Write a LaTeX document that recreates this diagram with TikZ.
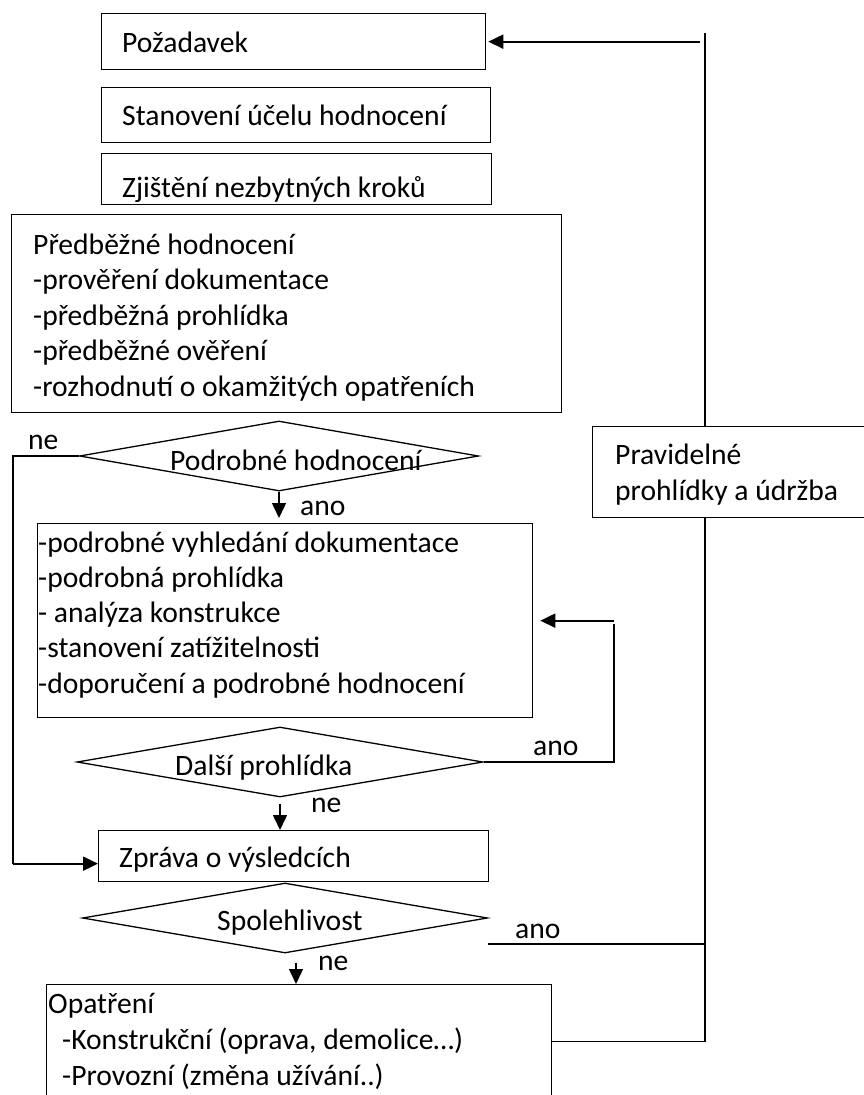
\documentclass[tikz,border=0pt]{standalone}
\usepackage{fontspec}
\setmainfont{Carlito}
\usetikzlibrary{arrows.meta,shapes.geometric}

\begin{document}
\begin{tikzpicture}
% Assessment flowchart, coordinates in pixels
\providecommand{\flowLineWidth}{1.3pt}
\providecommand{\flowArrowWidth}{2pt}
\providecommand{\flowDownWidth}{1.5pt}
\begin{scope}[x=1pt, y=-1pt,
  box/.style={draw, line width=\flowLineWidth, anchor=north west, inner sep=0pt},
  decision/.style={draw, diamond, line width=\flowLineWidth, inner sep=0pt},
  txt/.style={anchor=base west, inner sep=0pt, font=\fontsize{29.6}{35}\selectfont},
  conn/.style={line width=\flowLineWidth},
  arr/.style={line width=\flowArrowWidth, -{Triangle[length=15pt,width=14pt]}},
  downarr/.style={arr, line width=\flowDownWidth}]
  \useasboundingbox (0,0) rectangle (864,1095);
  \clip (0,0) rectangle (864,1095);
  \fill[white] (0,0) rectangle (864,1095);
  % Boxes
  \node[box, minimum width=384pt, minimum height=56pt] (poz) at (101,13) {};
  \node[box, minimum width=389pt, minimum height=55pt] (stan) at (101,87) {};
  \node[box, minimum width=390pt, minimum height=51pt] (zjis) at (101,153) {};
  \node[box, minimum width=550pt, minimum height=198pt] (pred) at (11,214) {};
  \node[box, minimum width=495pt, minimum height=194pt] (podr) at (37,523) {};
  \node[box, minimum width=390pt, minimum height=51pt] (zpr) at (98,830) {};
  \node[box, minimum width=505pt, minimum height=114pt] (opat) at (46,984) {};
  \node[box, minimum width=290pt, minimum height=91pt] (prav) at (592,426) {};
  % Decisions
  \node[decision, minimum width=399pt, minimum height=70pt] (hodD) at (279,456) {};
  \node[decision, minimum width=406pt, minimum height=70pt] (dalD) at (280,762) {};
  \node[decision, minimum width=405pt, minimum height=70pt] (spoD) at (285,918) {};
  % Box texts
  \node[txt] (pozT) at (122,52) {Požadavek};
  \node[txt] (stanT) at (122,125) {Stanovení účelu hodnocení};
  \begin{scope}
    \clip (101,153) rectangle (491,201);
    \node[txt] (zjisT) at (122,197) {Zjištění nezbytných kroků};
  \end{scope}
  \foreach \row [count=\i from 0] in {Předběžné hodnocení, -prověření dokumentace,
      -předběžná prohlídka, -předběžné ověření, -rozhodnutí o okamžitých opatřeních}
    \node[txt] (predT\i) at (33,254+35.5*\i) {\row};
  \foreach \row [count=\i from 0] in {-podrobné vyhledání dokumentace, -podrobná prohlídka,
      - analýza konstrukce, -stanovení zatížitelnosti, -doporučení a podrobné hodnocení}
    \node[txt] (podrT\i) at (38,552+35.3*\i) {\row};
  \begin{scope}
    \clip (98,830) rectangle (488,871);
    \node[txt] (zprT) at (119,867) {Zpráva o výsledcích};
  \end{scope}
  \node[txt] (opatT0) at (48,1013) {Opatření};
  \node[txt] (opatT1) at (62,1049) {-Konstrukční (oprava, demolice…)};
  \node[txt] (opatT2) at (62,1085) {-Provozní (změna užívání..)};
  \node[txt] (pravT0) at (615,464) {Pravidelné};
  \node[txt] (pravT1) at (615,500) {prohlídky a údržba};
  \node[txt] (hodT) at (170,470) {Podrobné hodnocení};
  \node[txt] (dalT) at (175,775) {Další prohlídka};
  \node[txt] (spoT) at (217,930) {Spolehlivost};
  % Branch labels
  \node[txt] (neA) at (28,449) {ne};
  \node[txt] (anoA) at (300,515) {ano};
  \node[txt] (anoB) at (533,755) {ano};
  \node[txt] (neB) at (311,812) {ne};
  \node[txt] (anoC) at (515,938) {ano};
  \node[txt] (neC) at (318,970) {ne};
  % Connectors
  \coordinate (rbus) at (705,33);
  \coordinate (lbus) at (13,456);
  \coordinate (rloop) at (614,624);
  \coordinate (spoA) at (488,944);
  \coordinate (zprA) at ([yshift=-7.5pt]zpr.west);
  \coordinate (spoN) at ([xshift=11pt,yshift=-9pt]spoD.south);
  % return loop on the right
  \draw[conn] (opat.east) -| (prav.south -| rbus);
  \draw[conn] (prav.north -| rbus) -- (rbus);
  \draw[arr] ([xshift=-5pt]rbus |- poz.east) -- ([xshift=2pt]poz.east);
  \draw[conn] (spoA) -- (spoA -| rbus);
  % ne branch on the left
  \draw[conn] (hodD.west) -- ([xshift=-1pt]lbus) (lbus) -- (lbus |- zprA);
  \draw[arr] (lbus |- zprA) -- (zprA);
  % further inspection loop
  \draw[conn] (dalD.east) -| (rloop);
  \draw[arr] (podr.east -| rloop) -- ([xshift=7pt]podr.east);
  % downward arrows
  \draw[downarr] (hodD.south) -- ([yshift=5pt]hodD.south |- podr.north);
  \draw[downarr] ([yshift=-6pt]dalD.south) -- (dalD.south |- zpr.north);
  \draw[downarr] (spoN) -- (spoN |- opat.north);
\end{scope}
\end{tikzpicture}
\end{document}
